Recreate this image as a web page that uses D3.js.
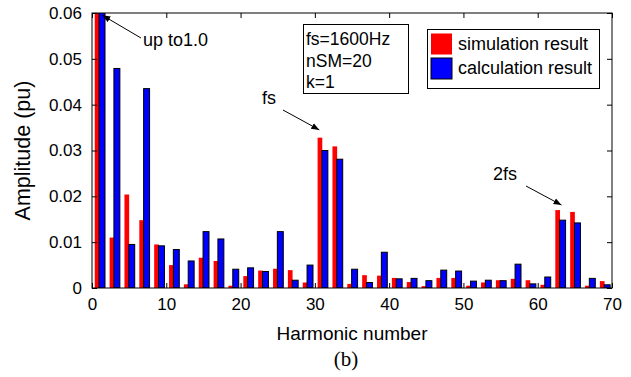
<!DOCTYPE html>
<html>
  <head>
    <meta charset=utf-8>
    <title>Harmonic spectrum</title>
    <style>
      body{ margin:0; background:#fff; }
      text{ font-family:"Liberation Sans", Arial, sans-serif; fill:#000; }
      .axis path{ display:none; }
      .axis line{ stroke:#000; }
    </style>
  </head>
  <body>
    <script src="https://d3js.org/d3.v7.min.js"></script>
    <script>
      // harmonic orders (odd only, even ones are ~0)
      var harmonics = [1,3,5,7,9,11,13,15,17,19,21,23,25,27,29,31,33,35,37,39,41,43,45,47,49,51,53,55,57,59,61,63,65,67,69];
      var simulation = [1.0,0.0110,0.0204,0.0148,0.0095,0.0050,0.0008,0.0066,0.0059,0.0005,0.0026,0.0038,0.0042,0.0039,0.0012,0.0328,0.0309,0.0009,0.0028,0.0027,0.0022,0.0013,0.0004,0.0022,0.0022,0.0005,0.0012,0.0017,0.0020,0.0017,0.0007,0.0170,0.0166,0.0005,0.0015];
      var calculation = [1.0,0.0479,0.0095,0.0435,0.0092,0.0084,0.0059,0.0123,0.0107,0.0041,0.0044,0.0036,0.0123,0.0017,0.0050,0.0300,0.0281,0.0041,0.0012,0.0078,0.0020,0.0021,0.0016,0.0039,0.0037,0.0015,0.0017,0.0016,0.0052,0.0009,0.0024,0.0148,0.0142,0.0021,0.0007];
      var xTicks = [0,10,20,30,40,50,60,70];
      var yTicks = [0,0.01,0.02,0.03,0.04,0.05,0.06];
      var seriesNames = ["simulation result", "calculation result"];
      var infoLines = ["fs=1600Hz", "nSM=20", "k=1"];

      var margin = {top: 13, right: 19, bottom: 89, left: 92},
          width = 631 - margin.left - margin.right,
          height = 377 - margin.top - margin.bottom;

      var svg = d3.select("body").append("svg")
        .attr("width", 631)
        .attr("height", 377);

      svg.append("defs").append("marker")
        .attr("id", "arrow")
        .attr("viewBox", "0 0 10 10")
        .attr("refX", 10).attr("refY", 5)
        .attr("markerWidth", 8).attr("markerHeight", 8)
        .attr("markerUnits", "userSpaceOnUse")
        .attr("orient", "auto")
        .append("path").attr("d", "M0,1 L10,5 L0,9 z").attr("fill", "#000");

      svg.select("defs").append("clipPath").attr("id", "plotclip")
        .append("rect").attr("width", width).attr("height", height);

      var g = svg.append("g")
        .attr("transform", "translate(" + margin.left + "," + margin.top + ")");

      var x = d3.scaleLinear().domain([0, 70]).range([0, width]);
      var y = d3.scaleLinear().domain([0, 0.06]).range([height, 0]);

      var bars = g.append("g").attr("clip-path", "url(#plotclip)");

      // red bars (no edge), blue bars drawn on top with a black edge
      bars.selectAll("rect.sim").data(harmonics).enter().append("rect")
        .attr("class", "sim")
        .attr("x", function(d) { return x(d - 0.63); })
        .attr("width", function(d) { return x(0.63) - x(0); })
        .attr("y", function(d, i) { return y(simulation[i]); })
        .attr("height", function(d, i) { return height - y(simulation[i]); })
        .attr("fill", "#ff0000");

      bars.selectAll("rect.calc").data(harmonics).enter().append("rect")
        .attr("class", "calc")
        .attr("x", function(d) { return x(d - 0.05); })
        .attr("width", function(d) { return x(0.8) - x(0); })
        .attr("y", function(d, i) { return y(calculation[i]); })
        .attr("height", function(d, i) { return height - y(calculation[i]); })
        .attr("fill", "#0000ff")
        .attr("stroke", "#000")
        .attr("stroke-width", 1);

      // axes with inward ticks on all four sides
      g.append("g").attr("class", "axis")
        .attr("transform", "translate(0," + height + ")")
        .call(d3.axisBottom(x).tickValues(xTicks).tickSizeInner(-5).tickSizeOuter(0).tickPadding(10))
        .selectAll("text").style("font-size", "17px").attr("dy", "0.71em");
      g.append("g").attr("class", "axis")
        .call(d3.axisTop(x).tickValues(xTicks).tickSizeInner(-5).tickSizeOuter(0).tickFormat(""));
      g.append("g").attr("class", "axis")
        .call(d3.axisLeft(y).tickValues(yTicks).tickSizeInner(-5).tickSizeOuter(0).tickPadding(10)
          .tickFormat(function(d) { return d === 0 ? "0" : d3.format(".2f")(d); }))
        .selectAll("text").style("font-size", "17px");
      g.append("g").attr("class", "axis")
        .attr("transform", "translate(" + width + ",0)")
        .call(d3.axisRight(y).tickValues(yTicks).tickSizeInner(-5).tickSizeOuter(0).tickFormat(""));

      g.append("rect")
        .attr("width", width).attr("height", height)
        .attr("fill", "none").attr("stroke", "#000").attr("stroke-width", 1);

      // axis titles
      g.append("text")
        .attr("text-anchor", "middle")
        .attr("x", width / 2).attr("y", height + 52)
        .style("font-size", "19px")
        .text("Harmonic number");
      svg.append("text")
        .attr("text-anchor", "middle")
        .attr("transform", "translate(30," + (margin.top + height / 2) + ")rotate(-90)")
        .style("font-size", "21.5px")
        .text("Amplitude (pu)");
      svg.append("text")
        .attr("text-anchor", "middle")
        .attr("x", 346).attr("y", 366)
        .style("font-family", "'Liberation Serif', 'Times New Roman', serif")
        .style("font-size", "21px")
        .text("(b)");

      // annotations
      var notes = [
        {label: "up to1.0", tx: 143, ty: 46, from: [141, 38], to: [1.4, 0.0595]},
        {label: "fs", tx: 262, ty: 104, from: [283, 110], to: [30.6, 0.0345]},
        {label: "2fs", tx: 493, ty: 180, from: [526, 186], to: [63.2, 0.0181]}
      ];
      notes.forEach(function(n) {
        g.append("text")
          .attr("x", n.tx - margin.left).attr("y", n.ty - margin.top)
          .style("font-size", "18px")
          .text(n.label);
        g.append("line")
          .attr("x1", n.from[0] - margin.left).attr("y1", n.from[1] - margin.top)
          .attr("x2", x(n.to[0])).attr("y2", y(n.to[1]))
          .attr("stroke", "#000").attr("stroke-width", 1)
          .attr("marker-end", "url(#arrow)");
      });

      // parameter box
      svg.append("rect")
        .attr("x", 303.5).attr("y", 24.5).attr("width", 105).attr("height", 69)
        .attr("fill", "#fff").attr("stroke", "#000");
      svg.selectAll("text.info").data(infoLines).enter().append("text")
        .attr("class", "info")
        .attr("x", 306).attr("y", function(d, i) { return 45 + i * 21.5; })
        .style("font-size", "17.5px")
        .text(function(d) { return d; });

      // legend
      svg.append("rect")
        .attr("x", 427.5).attr("y", 29.5).attr("width", 172).attr("height", 59)
        .attr("fill", "#fff").attr("stroke", "#000");
      var colors = ["#ff0000", "#0000ff"];
      var leg = svg.selectAll("g.leg").data(seriesNames).enter().append("g")
        .attr("class", "leg")
        .attr("transform", function(d, i) { return "translate(431," + (33.5 + i * 24.5) + ")"; });
      leg.append("rect")
        .attr("width", 21).attr("height", 21)
        .attr("fill", function(d, i) { return colors[i]; })
        .attr("stroke", function(d, i) { return i === 1 ? "#000" : "none"; });
      leg.append("text")
        .attr("x", 27).attr("y", 16)
        .style("font-size", "18px")
        .text(function(d) { return d; });
    </script>
  </body>
</html>
